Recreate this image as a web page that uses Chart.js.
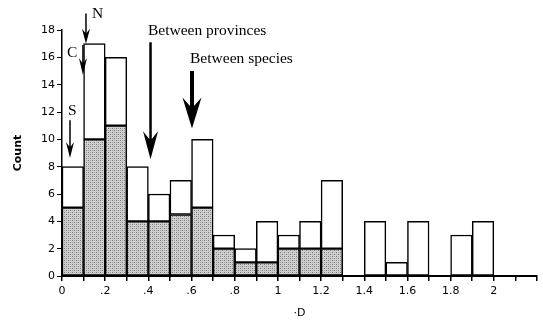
<!DOCTYPE html>
<html>
<head>
<meta charset="utf-8">
<script src="https://cdn.jsdelivr.net/npm/chart.js@4.4.1/dist/chart.umd.min.js"></script>
<style>
  html, body { margin: 0; padding: 0; background: #fff; }
  #wrap { width: 543px; height: 321px; }
</style>
</head>
<body>
<div id="wrap"><canvas id="hist" width="543" height="321"></canvas></div>
<script>
/* ---------- data ---------- */
const binMid = [0.05, 0.15, 0.25, 0.35, 0.45, 0.55, 0.65, 0.75, 0.85, 0.95,
                1.05, 1.15, 1.25, 1.35, 1.45, 1.55, 1.65, 1.75, 1.85, 1.95];
const totalCount  = [8, 17, 16, 8, 6, 7, 10, 3, 2, 4, 3, 4, 7, null, 4, 1, 4, null, 3, 4];
const shadedCount = [5, 10, 11, 4, 4, 4.5, 5, 2, 1, 1, 2, 2, 2, null, null, null, null, null, null, null];

const xTickLabels = ["0", ".2", ".4", ".6", ".8", "1", "1.2", "1.4", "1.6", "1.8", "2"];
const yTickLabels = ["0", "2", "4", "6", "8", "10", "12", "14", "16", "18"];

/* annotation arrows and labels, in data units */
const arrowNotes = [
  { x: 0.111, from: 19.2, to: 17.0, lw: 1.5, hw: 8,  hh: 15 },  // N
  { x: 0.097, from: 16.9, to: 14.7, lw: 1.5, hw: 8,  hh: 17 },  // C
  { x: 0.037, from: 11.4, to: 8.63, lw: 1.5, hw: 8,  hh: 16 },  // S
  { x: 0.410, from: 17.1, to: 8.55, lw: 2.5, hw: 15, hh: 28 },  // between provinces
  { x: 0.602, from: 15.0, to: 10.8, lw: 4,   hw: 19, hh: 31 }   // between species
];
const textNotes = [
  { t: "N", x: 0.139, y: 18.87 },
  { t: "C", x: 0.023, y: 16.02 },
  { t: "S", x: 0.028, y: 11.78 },
  { t: "Between provinces", x: 0.398, y: 17.63 },
  { t: "Between species",   x: 0.593, y: 15.58 }
];

/* ---------- stipple fill for the shaded part ---------- */
function stipple() {
  const c = document.createElement("canvas");
  c.width = 4; c.height = 4;
  const g = c.getContext("2d");
  g.fillStyle = "#d0d0d0";
  g.fillRect(0, 0, 4, 4);
  g.fillStyle = "#777";
  g.fillRect(0, 0, 1, 1);
  g.fillRect(2, 2, 1, 1);
  g.fillStyle = "#a4a4a4";
  g.fillRect(2, 0, 1, 1);
  g.fillRect(0, 2, 1, 1);
  return g.createPattern(c, "repeat");
}

const shadedData = binMid.map((x, i) => ({ x, y: shadedCount[i] }));
const upperData = binMid.map((x, i) => ({
  x,
  y: totalCount[i] == null ? null : totalCount[i] - (shadedCount[i] || 0)
}));

/* ---------- arrows + serif labels ---------- */
const notesPlugin = {
  id: "notes",
  afterDatasetsDraw(chart) {
    const { ctx, scales: { x, y } } = chart;
    ctx.save();
    ctx.fillStyle = "#000";
    ctx.strokeStyle = "#000";
    arrowNotes.forEach(a => {
      const px = x.getPixelForValue(a.x);
      const y1 = y.getPixelForValue(a.from);
      const y2 = y.getPixelForValue(a.to);
      const back = y2 - a.hh, notch = y2 - a.hh * 0.72;
      ctx.lineWidth = a.lw;
      ctx.beginPath();
      ctx.moveTo(px, y1);
      ctx.lineTo(px, notch + 1);
      ctx.stroke();
      // barbed head: barbs at the back, straight taper to the tip
      ctx.beginPath();
      ctx.moveTo(px - a.lw / 2, notch);
      ctx.lineTo(px - a.hw / 2, back);
      ctx.lineTo(px, y2);
      ctx.lineTo(px + a.hw / 2, back);
      ctx.lineTo(px + a.lw / 2, notch);
      ctx.closePath();
      ctx.fill();
    });
    ctx.font = "15.5px 'Liberation Serif', 'Times New Roman', serif";
    ctx.textAlign = "left";
    ctx.textBaseline = "alphabetic";
    textNotes.forEach(n => {
      ctx.fillText(n.t, x.getPixelForValue(n.x), y.getPixelForValue(n.y));
    });
    ctx.restore();
  }
};

const tickFont = { family: "'DejaVu Sans', sans-serif", size: 11 };

new Chart(document.getElementById("hist"), {
  type: "bar",
  data: {
    datasets: [
      {
        data: shadedData,
        backgroundColor: stipple(),
        borderColor: "#000",
        borderWidth: 1.5,
        borderSkipped: false,
        barPercentage: 1,
        categoryPercentage: 1
      },
      {
        data: upperData,
        backgroundColor: "#fff",
        borderColor: "#000",
        borderWidth: 1.5,
        borderSkipped: false,
        barPercentage: 1,
        categoryPercentage: 1
      }
    ]
  },
  options: {
    responsive: false,
    devicePixelRatio: 1,
    animation: false,
    layout: { padding: { top: 30, right: 6, left: 0, bottom: 0 } },
    plugins: { legend: { display: false }, tooltip: { enabled: false } },
    scales: {
      x: {
        type: "linear",
        stacked: true,
        offset: false,
        min: 0,
        max: 2.2,
        afterFit: s => { s.height = 45; },
        afterBuildTicks: s => {
          s.ticks = Array.from({ length: 23 }, (_, i) => ({ value: i / 10 }));
        },
        ticks: {
          autoSkip: false,
          maxRotation: 0,
          padding: 4,
          color: "#000",
          font: tickFont,
          callback: v => {
            const k = Math.round(v * 10);
            return k % 2 === 0 ? (xTickLabels[k / 2] || "") : "";
          }
        },
        grid: { offset: false, drawOnChartArea: false, drawTicks: true, tickLength: 5, color: "#000", lineWidth: 1.5 },
        border: { display: true, color: "#000", width: 2 },
        title: {
          display: true,
          text: "·D",
          color: "#000",
          font: { family: "'DejaVu Sans', sans-serif", size: 11 },
          padding: { top: 0, bottom: 1 }
        }
      },
      y: {
        stacked: true,
        min: 0,
        max: 18,
        afterFit: s => { s.width = 62; },
        ticks: {
          stepSize: 2,
          padding: 2,
          color: "#000",
          font: tickFont,
          callback: (v, i) => yTickLabels[i]
        },
        grid: { drawOnChartArea: false, drawTicks: true, tickLength: 5, color: "#000", lineWidth: 1 },
        border: { display: true, color: "#000", width: 1.5 },
        title: {
          display: true,
          text: "Count",
          color: "#000",
          font: { family: "'DejaVu Sans', sans-serif", size: 11, weight: "bold" },
          padding: { top: 12, bottom: 0 }
        }
      }
    }
  },
  plugins: [notesPlugin]
});
</script>
</body>
</html>
